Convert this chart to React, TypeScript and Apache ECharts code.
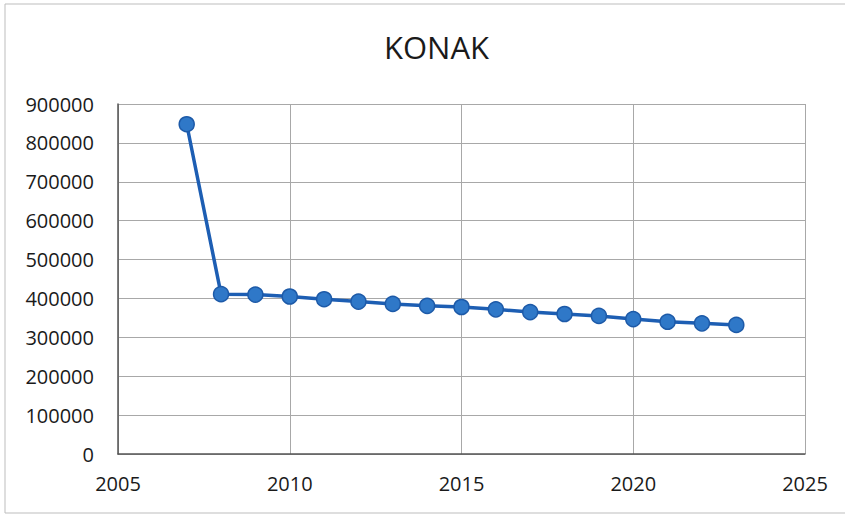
import React, { useEffect, useRef } from "react";
import * as echarts from "echarts";

const years = [2007, 2008, 2009, 2010, 2011, 2012, 2013, 2014, 2015, 2016, 2017, 2018, 2019, 2020, 2021, 2022, 2023];
const population = [848000, 411000, 410000, 405000, 398000, 392000, 386000, 381000, 378000, 372000, 365000, 360000, 355000, 347000, 340000, 336000, 332000];
const titleText = "KONAK";

export default function App() {
  const ref = useRef<HTMLDivElement>(null);
  useEffect(() => {
    if (!ref.current) return;
    const chart = echarts.init(ref.current, null, { renderer: "svg" });
    const font = "'Open Sans', 'Noto Sans', sans-serif";
    chart.setOption({
      animation: false,
      backgroundColor: "#ffffff",
      title: {
        text: titleText,
        left: 379,
        top: 26,
        textStyle: { fontFamily: font, fontSize: 31, fontWeight: "normal", color: "#1a1a1a" },
      },
      graphic: [
        {
          type: "rect",
          shape: { x: 5, y: 4, width: 845, height: 509 },
          style: { fill: "none", stroke: "#bdbdbd", lineWidth: 1 },
          silent: true,
        },
      ],
      grid: { left: 118, right: 40, top: 104, bottom: 61 },
      xAxis: {
        type: "value",
        min: 2005,
        max: 2025,
        interval: 5,
        axisLine: { show: true, lineStyle: { color: "#555", width: 1.5 } },
        axisTick: { show: false },
        splitLine: { show: true, lineStyle: { color: "#a8a8a8", width: 1 } },
        axisLabel: { fontFamily: font, fontSize: 20, color: "#1a1a1a", margin: 19, formatter: (v: number) => String(v) },
      },
      yAxis: {
        type: "value",
        min: 0,
        max: 900000,
        interval: 100000,
        axisLine: { show: true, lineStyle: { color: "#555", width: 1.5 } },
        axisTick: { show: false },
        splitLine: { show: true, lineStyle: { color: "#a8a8a8", width: 1 } },
        axisLabel: { fontFamily: font, fontSize: 20, color: "#1a1a1a", margin: 24, formatter: (v: number) => String(v) },
      },
      series: [
        {
          type: "line",
          data: years.map((y, i) => [y, population[i]]),
          symbol: "circle",
          symbolSize: 15,
          lineStyle: { color: "#1d5eb3", width: 3.5 },
          itemStyle: { color: "#2f78c8", borderColor: "#1d5aa8", borderWidth: 1.5 },
        },
      ],
    });
    return () => chart.dispose();
  }, []);
  return (
    <div
      ref={ref}
      style={{ position: "fixed", left: 0, top: 0, width: 845, height: 515 }}
    />
  );
}
